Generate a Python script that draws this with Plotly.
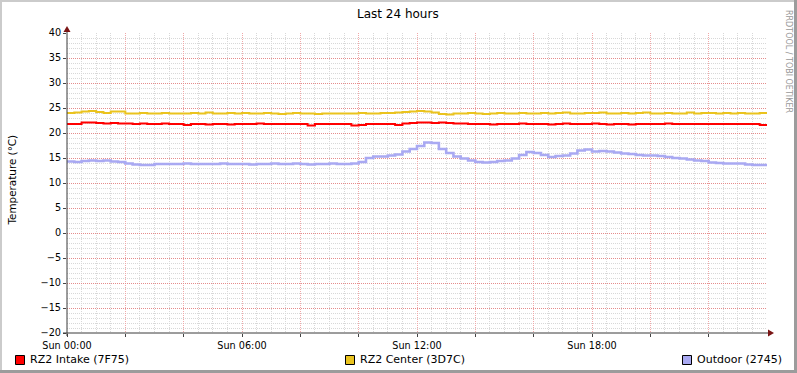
import plotly.graph_objects as go

# ---------------- data ----------------
title_text = "Last 24 hours"
y_title = "Temperature (°C)"
watermark = "RRDTOOL / TOBI OETIKER"

step_minutes = 15  # sample spacing of the series below

x_tick_hours = [0, 2, 4, 6, 8, 10, 12, 14, 16, 18, 20, 22]
x_tick_labels = ["Sun 00:00", "", "", "Sun 06:00", "", "", "Sun 12:00", "", "",
                 "Sun 18:00", "", ""]

series_names = ["RZ2 Intake (7F75)", "RZ2 Center (3D7C)", "Outdoor (2745)"]
series_colors = ["#FF0000", "#EAC31E", "#A9A9F2"]

intake = [
    21.8, 21.8, 22.1, 22.1,  22.0, 21.9, 22.0, 21.9,  21.9, 21.8, 21.9, 21.8,
    21.8, 21.9, 21.8, 21.8,  21.6, 21.8, 21.8, 21.7,  21.8, 21.8, 21.7, 21.8,
    21.8, 21.8, 21.9, 21.8,  21.8, 21.8, 21.8, 21.8,  21.8, 21.5, 21.8, 21.8,
    21.8, 21.8, 21.8, 21.5,  21.6, 21.8, 21.8, 21.8,  21.8, 21.6, 21.9, 22.0,
    22.1, 22.1, 22.0, 22.1,  22.0, 21.9, 21.9, 21.8,  21.8, 21.8, 21.7, 21.8,
    21.8, 21.8, 21.9, 21.8,  21.8, 21.8, 21.7, 21.8,  21.9, 21.8, 21.8, 21.8,
    21.9, 21.8, 21.7, 21.8,  21.8, 21.7, 21.8, 21.8,  21.8, 21.8, 21.9, 21.8,
    21.8, 21.8, 21.8, 21.8,  21.8, 21.8, 21.8, 21.8,  21.8, 21.8, 21.8, 21.6,
    21.8,
]

center = [
    24.0, 24.1, 24.3, 24.4,  24.2, 24.0, 24.3, 24.3,  23.9, 23.9, 24.0, 23.9,
    23.9, 24.0, 23.9, 23.9,  23.9, 24.0, 23.9, 24.1,  23.9, 23.9, 24.0, 23.9,
    24.0, 23.9, 23.9, 24.0,  23.9, 23.8, 23.9, 24.0,  23.9, 23.9, 23.8, 23.9,
    23.9, 23.9, 23.9, 23.9,  24.0, 23.9, 23.9, 24.0,  24.0, 24.1, 24.2, 24.3,
    24.4, 24.3, 24.1, 23.8,  23.7, 23.9, 23.9, 24.0,  23.9, 23.8, 23.9, 24.0,
    23.9, 23.9, 24.0, 23.9,  23.9, 24.0, 23.9, 24.0,  24.1, 23.9, 23.9, 24.0,
    24.0, 24.1, 23.9, 23.9,  24.0, 23.9, 24.0, 24.1,  23.9, 23.9, 24.0, 23.9,
    23.9, 24.1, 23.9, 24.0,  24.0, 23.9, 24.0, 23.9,  24.0, 23.9, 23.9, 24.0,
    23.9,
]

outdoor = [
    14.3, 14.2, 14.4, 14.5,  14.4, 14.5, 14.3, 14.2,  13.9, 13.7, 13.6, 13.6,
    13.8, 13.8, 13.8, 13.8,  13.9, 13.8, 13.8, 13.8,  13.8, 13.9, 13.8, 13.8,
    13.8, 13.7, 13.8, 13.8,  13.9, 13.8, 13.8, 13.9,  13.8, 13.7, 13.8, 13.8,
    13.9, 13.8, 13.8, 13.9,  14.2, 15.0, 15.3, 15.3,  15.5, 15.7, 16.3, 16.8,
    17.4, 18.1, 18.0, 16.8,  16.0, 15.3, 14.9, 14.5,  14.2, 14.1, 14.2, 14.4,
    14.5, 14.9, 15.6, 16.2,  16.0, 15.6, 15.2, 15.4,  15.5, 15.9, 16.5, 16.7,
    16.3, 16.4, 16.3, 16.1,  15.9, 15.8, 15.6, 15.5,  15.5, 15.4, 15.2, 15.0,
    14.9, 14.7, 14.5, 14.4,  14.1, 14.0, 13.9, 13.9,  13.9, 13.7, 13.6, 13.6,
    13.5,
]

# ---------------- figure ----------------
W, H = 797, 373
L, R, T, B = 67, 30, 33, 40
PW, PH = W - L - R, H - T - B
FONT = "DejaVu Sans"


def px(x):
    return (x - L) / PW


def py(y):
    return (T + PH - y) / PH


hours = [i * step_minutes / 60 for i in range(len(intake))]

# minor grid positions (excluding major grid positions)
x_minor = [k / 2 for k in range(49) if k % 4 != 0]
y_minor = [v for v in range(-20, 41) if v % 5 != 0]

fig = go.Figure()
widths = [2, 2, 2.6]
for name, color, vals, w in zip(series_names, series_colors,
                                [intake, center, outdoor], widths):
    fig.add_trace(go.Scatter(x=hours, y=vals, mode="lines", name=name,
                             line=dict(color=color, width=w, shape="hv"),
                             showlegend=False, hoverinfo="skip"))

grid_major_y = "#E58C8C"
grid_major_x = "#F0A8A8"
grid_minor = "#D8D8D8"
dot = "1px,1px"

fig.update_xaxes(
    range=[0, 24], tickmode="array", tickvals=x_tick_hours, ticktext=x_tick_labels,
    showgrid=True, gridcolor=grid_major_x, griddash=dot, gridwidth=1,
    minor=dict(tickmode="array", tickvals=x_minor, showgrid=True, gridcolor=grid_minor,
               griddash=dot, gridwidth=1),
    zeroline=False, showline=False, ticks="outside", ticklen=3, tickcolor="#444",
    tickfont=dict(family=FONT, size=9.7, color="#000"),
)
fig.update_yaxes(
    range=[-20, 40], dtick=5, tick0=0,
    showgrid=True, gridcolor=grid_major_y, griddash=dot, gridwidth=1,
    minor=dict(tickmode="array", tickvals=y_minor, showgrid=True, gridcolor=grid_minor,
               griddash=dot, gridwidth=1),
    zeroline=False, showline=False, ticks="outside", ticklen=3, tickcolor="#444",
    tickfont=dict(family=FONT, size=9.7, color="#000"),
)

shapes = []
# axes with arrows
axis_col = "#3A3A3A"
arrow_col = "#7A1515"
shapes.append(dict(type="line", xref="paper", yref="paper",
                   x0=px(67), x1=px(67), y0=py(336), y1=py(30),
                   line=dict(color=axis_col, width=1), layer="above"))
shapes.append(dict(type="line", xref="paper", yref="paper",
                   x0=px(63), x1=px(770), y0=py(333), y1=py(333),
                   line=dict(color=axis_col, width=1), layer="above"))
shapes.append(dict(type="path", xref="paper", yref="paper", layer="above",
                   path=f"M {px(63.5)} {py(32)} L {px(70.5)} {py(32)} L {px(67)} {py(26)} Z",
                   fillcolor=arrow_col, line=dict(width=0)))
shapes.append(dict(type="path", xref="paper", yref="paper", layer="above",
                   path=f"M {px(768)} {py(329.5)} L {px(768)} {py(336.5)} L {px(774)} {py(333)} Z",
                   fillcolor=arrow_col, line=dict(width=0)))

# frame
shade_a = "#CBCBCB"
shade_b = "#9C9C9C"
for (x0, y0, x1, y1, c) in [(0, 0, W, 2, shade_a), (0, 0, 2, H, shade_a),
                            (W - 3, 0, W, H, shade_b), (0, H - 3, W, H, shade_b)]:
    shapes.append(dict(type="rect", xref="paper", yref="paper", layer="above",
                       x0=px(x0), x1=px(x1), y0=py(y0), y1=py(y1),
                       fillcolor=c, line=dict(width=0)))

# legend
legend_x = [15, 345, 682]
annotations = []
for lx, name, color in zip(legend_x, series_names, series_colors):
    shapes.append(dict(type="rect", xref="paper", yref="paper", layer="above",
                       x0=px(lx + 0.5), x1=px(lx + 9.5), y0=py(355.5), y1=py(364.5),
                       fillcolor=color, line=dict(color="#000", width=1)))
    annotations.append(dict(xref="paper", yref="paper", x=px(lx + 13), y=py(359.5),
                            text=name, showarrow=False, xanchor="left", yanchor="middle",
                            font=dict(family=FONT, size=11, color="#000")))

annotations.append(dict(xref="paper", yref="paper", x=px(398), y=py(13.5),
                        text=title_text, showarrow=False, xanchor="center",
                        yanchor="middle", font=dict(family=FONT, size=12, color="#000")))
annotations.append(dict(xref="paper", yref="paper", x=px(11), y=py(180.5),
                        text=y_title, showarrow=False, textangle=-90,
                        xanchor="center", yanchor="middle",
                        font=dict(family=FONT, size=10.4, color="#000")))
annotations.append(dict(xref="paper", yref="paper", x=px(789), y=py(61),
                        text=watermark, showarrow=False, textangle=90,
                        xanchor="center", yanchor="middle",
                        font=dict(family=FONT, size=8, color="#999999")))

fig.update_layout(
    width=W, height=H,
    margin=dict(l=L, r=R, t=T, b=B, pad=0),
    paper_bgcolor="#FFFFFF", plot_bgcolor="#FFFFFF",
    shapes=shapes, annotations=annotations, showlegend=False,
    font=dict(family=FONT),
)

fig.write_html(
    "out.html",
    config={"displayModeBar": False},
    post_script="document.body.style.margin='0';document.body.style.padding='0';"
                "document.body.style.overflow='hidden';",
)
